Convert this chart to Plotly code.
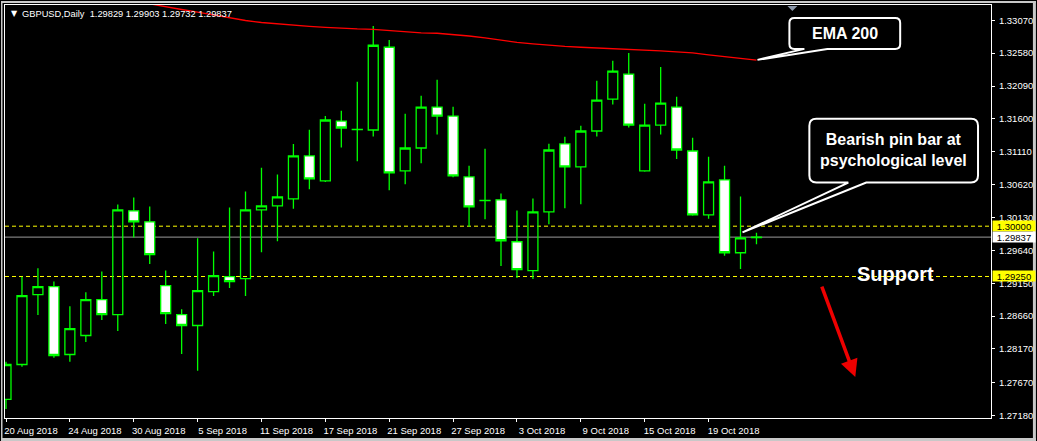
import plotly.graph_objects as go
import pandas as pd

# ---------------- data ----------------
dates = [d.strftime("%d %b %Y").lstrip("0") for d in pd.bdate_range("2018-08-20", "2018-10-24")]

opens = [1.27418, 1.27938, 1.28980, 1.29099, 1.28087, 1.28370, 1.28905, 1.28682, 1.30229, 1.30065,
         1.29113, 1.28682, 1.28519, 1.29024, 1.29247, 1.29218, 1.30244, 1.30303, 1.30408, 1.31047,
         1.30675, 1.31568, 1.31445, 1.31434, 1.32668, 1.30824, 1.31166, 1.31776, 1.31642, 1.30735,
         1.30384, 1.30393, 1.29768, 1.29337, 1.30214, 1.31226, 1.30883, 1.31419, 1.31895, 1.32267,
         1.30824, 1.31508, 1.31776, 1.31121, 1.30170, 1.30690, 1.29604, 1.29829]
highs = [1.27977, 1.29247, 1.29371, 1.29177, 1.28806, 1.29014, 1.29326, 1.30323, 1.30427, 1.30293,
         1.29341, 1.28761, 1.29821, 1.29624, 1.30278, 1.30516, 1.30873, 1.30769, 1.31226, 1.31438,
         1.31642, 1.31721, 1.32152, 1.32985, 1.32777, 1.31676, 1.31944, 1.32182, 1.31780, 1.30903,
         1.31156, 1.30486, 1.30234, 1.30412, 1.31230, 1.31334, 1.31498, 1.32167, 1.32465, 1.32584,
         1.31825, 1.32375, 1.31929, 1.31319, 1.31037, 1.30903, 1.30442, 1.29903]
lows = [1.27273, 1.27903, 1.28676, 1.28037, 1.27977, 1.28275, 1.28602, 1.28438, 1.29832, 1.29435,
        1.28542, 1.28096, 1.27843, 1.28959, 1.29078, 1.28959, 1.29613, 1.29777, 1.30259, 1.30550,
        1.30660, 1.31175, 1.30967, 1.31339, 1.30535, 1.30625, 1.30937, 1.31368, 1.30729, 1.29991,
        1.30104, 1.29405, 1.29227, 1.29212, 1.30030, 1.30268, 1.30327, 1.31339, 1.31815, 1.31473,
        1.30810, 1.31368, 1.31003, 1.30155, 1.30110, 1.29560, 1.29360, 1.29732]
closes = [1.27938, 1.28965, 1.29099, 1.28072, 1.28474, 1.28905, 1.28682, 1.30244, 1.30065, 1.29575,
          1.28697, 1.28519, 1.29039, 1.29262, 1.29173, 1.30244, 1.30303, 1.30437, 1.31047, 1.30705,
          1.31583, 1.31464, 1.31441, 1.32698, 1.30794, 1.31166, 1.31776, 1.31642, 1.30750, 1.30289,
          1.30380, 1.29783, 1.29351, 1.30214, 1.31136, 1.30883, 1.31419, 1.31880, 1.32311, 1.31508,
          1.31508, 1.31835, 1.31136, 1.30170, 1.30660, 1.29604, 1.29827, 1.29837]
ema200 = [None] * 8 + [1.33357, 1.33312, 1.33268, 1.33231, 1.33193, 1.33149, 1.33104, 1.33067,
                       1.33037, 1.33015, 1.32993, 1.32978, 1.32963, 1.32948, 1.32941, 1.32936,
                       1.32918, 1.32896, 1.32881, 1.32877, 1.32859, 1.32836, 1.32807, 1.32769,
                       1.32740, 1.32717, 1.32695, 1.32680, 1.32668, 1.32658, 1.32650, 1.32636,
                       1.32621, 1.32613, 1.32598, 1.32584, 1.32554, 1.32532, 1.32502, 1.32475]

price_ticks = [1.33070, 1.32580, 1.32090, 1.31600, 1.31110, 1.30620, 1.30130,
               1.29640, 1.29150, 1.28660, 1.28170, 1.27670, 1.27180]
price_tick_text = ["%.5f" % v for v in price_ticks]
date_tick_idx = list(range(0, 45, 4))
date_tick_text = [dates[i] for i in date_tick_idx]

resistance_level = 1.30000
support_level = 1.29250
bid_level = 1.29837
title_text = "GBPUSD,Daily  1.29829 1.29903 1.29732 1.29837"

x = list(range(len(dates)))

# ---------------- geometry helpers (pixel -> paper) ----------------
W, H = 1037, 441
L, R, T, B = 4, 992, 4, 418
def px(v):
    return (v - L) / (R - L)
def py(v):
    return (B - v) / (B - T)

def callout_path(x0, y0, x1, y1, r, b0, b1, tx, ty):
    pts = [
        ("M", [(x0 + r, y0)]), ("L", [(x1 - r, y0)]), ("Q", [(x1, y0), (x1, y0 + r)]),
        ("L", [(x1, y1 - r)]), ("Q", [(x1, y1), (x1 - r, y1)]),
        ("L", [(b1, y1)]), ("L", [(tx, ty)]), ("L", [(b0, y1)]),
        ("L", [(x0 + r, y1)]), ("Q", [(x0, y1), (x0, y1 - r)]),
        ("L", [(x0, y0 + r)]), ("Q", [(x0, y0), (x0 + r, y0)]),
    ]
    s = ""
    for cmd, ps in pts:
        s += cmd + " ".join("%.5f,%.5f" % (px(a), py(b)) for a, b in ps) + " "
    return s + "Z"

fig = go.Figure()

fig.add_trace(go.Candlestick(
    x=x, open=opens, high=highs, low=lows, close=closes,
    increasing=dict(line=dict(color="#00ff00", width=1.3), fillcolor="rgba(0,0,0,0)"),
    decreasing=dict(line=dict(color="#00ff00", width=1.3), fillcolor="#ffffff"),
    whiskerwidth=0, showlegend=False, hoverinfo="skip",
))
fig.add_trace(go.Scatter(x=x, y=ema200, mode="lines", line=dict(color="#ff0000", width=1.3),
                         showlegend=False, hoverinfo="skip"))

shapes = []
for lvl, col, dash in [(resistance_level, "#ffff00", "4px,3px"), (support_level, "#ffff00", "4px,3px"),
                       (bid_level, "#9a9a9a", "solid")]:
    shapes.append(dict(type="line", xref="paper", x0=0, x1=1, yref="y", y0=lvl, y1=lvl,
                       line=dict(color=col, width=1, dash=dash), layer="below"))
shapes.append(dict(type="path", xref="paper", yref="paper",
                   path=callout_path(790, 17, 901, 48, 5, 805, 828, 758, 59),
                   fillcolor="#000000", line=dict(color="#ffffff", width=2)))
shapes.append(dict(type="path", xref="paper", yref="paper",
                   path=callout_path(810, 118, 979, 182, 7, 849, 867, 743, 232),
                   fillcolor="#000000", line=dict(color="#ffffff", width=2)))
shapes.append(dict(type="path", xref="paper", yref="paper",
                   path="M%.5f,%.5f L%.5f,%.5f L%.5f,%.5f Z" % (px(788), py(5), px(798), py(5), px(793), py(10)),
                   fillcolor="#8a96a8", line=dict(width=0)))
for (a, b, c, d) in [(0, 0, W, 2), (0, 0, 1.5, H), (0, 438, W, H), (1034, 0, W, H)]:
    shapes.append(dict(type="rect", xref="paper", yref="paper", x0=px(a), x1=px(c), y0=py(b), y1=py(d),
                       fillcolor="#c8c8c8", line=dict(width=0), layer="above"))

font_b = "Liberation Sans, Arial"
annotations = []
annotations.append(dict(xref="paper", yref="paper", x=px(845.5), y=py(32.5), xanchor="center", yanchor="middle",
                        text="<b>EMA 200</b>", showarrow=False,
                        font=dict(family=font_b, size=16, color="#ffffff")))
annotations.append(dict(xref="paper", yref="paper", x=px(894.5), y=py(149), xanchor="center", yanchor="middle",
                        text="<b>Bearish pin bar at<br>psychological level</b>", showarrow=False,
                        font=dict(family=font_b, size=16, color="#ffffff")))
annotations.append(dict(xref="paper", yref="paper", x=px(896), y=py(274), xanchor="center", yanchor="middle",
                        text="<b>Support</b>", showarrow=False,
                        font=dict(family=font_b, size=20, color="#ffffff")))
annotations.append(dict(xref="paper", yref="paper", x=px(856), y=py(377), ax=-34, ay=-92, text="",
                        showarrow=True, arrowhead=2, arrowsize=1, arrowwidth=3.5, arrowcolor="#ee0000"))
annotations.append(dict(xref="paper", yref="paper", x=px(8), y=py(13), xanchor="left", yanchor="middle", text="▼",
                        showarrow=False, font=dict(family="DejaVu Sans", size=8, color="#ffffff")))
annotations.append(dict(xref="paper", yref="paper", x=px(19), y=py(13), xanchor="left", yanchor="middle",
                        text=title_text, showarrow=False,
                        font=dict(family=font_b, size=9.3, color="#ffffff")))
for lvl, bg in [(resistance_level, "#ffff00"), (bid_level, "#ffffff"), (support_level, "#ffff00")]:
    annotations.append(dict(xref="paper", yref="y", x=1, y=lvl, xanchor="left", yanchor="middle", xshift=1,
                            text="%.5f" % lvl, showarrow=False, bgcolor=bg, width=42, height=10,
                            align="center", borderpad=0,
                            font=dict(family=font_b, size=9.5, color="#000000")))

fig.update_layout(
    width=W, height=H,
    margin=dict(l=L, r=W - R, t=T, b=H - B),
    paper_bgcolor="#000000", plot_bgcolor="#000000",
    boxgap=0.375, boxgroupgap=0,
    shapes=shapes, annotations=annotations,
    xaxis=dict(range=[-0.0625, -0.0625 + (R - L) / 16], rangeslider=dict(visible=False),
               tickvals=date_tick_idx, ticktext=date_tick_text, ticks="outside", ticklen=3,
               tickcolor="#ffffff", showgrid=False, zeroline=False, showline=True, linecolor="#ffffff",
               linewidth=1, mirror=True, ticklabelshift=25, ticklabelstandoff=1,
               tickfont=dict(family=font_b, size=9.5, color="#ffffff")),
    yaxis=dict(range=[1.27140, 1.33298], side="right", tickvals=price_ticks, ticktext=price_tick_text,
               ticks="outside", ticklen=3, tickcolor="#ffffff", showgrid=False, zeroline=False,
               showline=True, linecolor="#ffffff", linewidth=1, mirror=True, ticklabelstandoff=2,
               tickfont=dict(family=font_b, size=9.5, color="#ffffff")),
)

fig.write_html("out.html", config={"displayModeBar": False},
               post_script="document.body.style.margin='0';document.body.style.background='#000';")
